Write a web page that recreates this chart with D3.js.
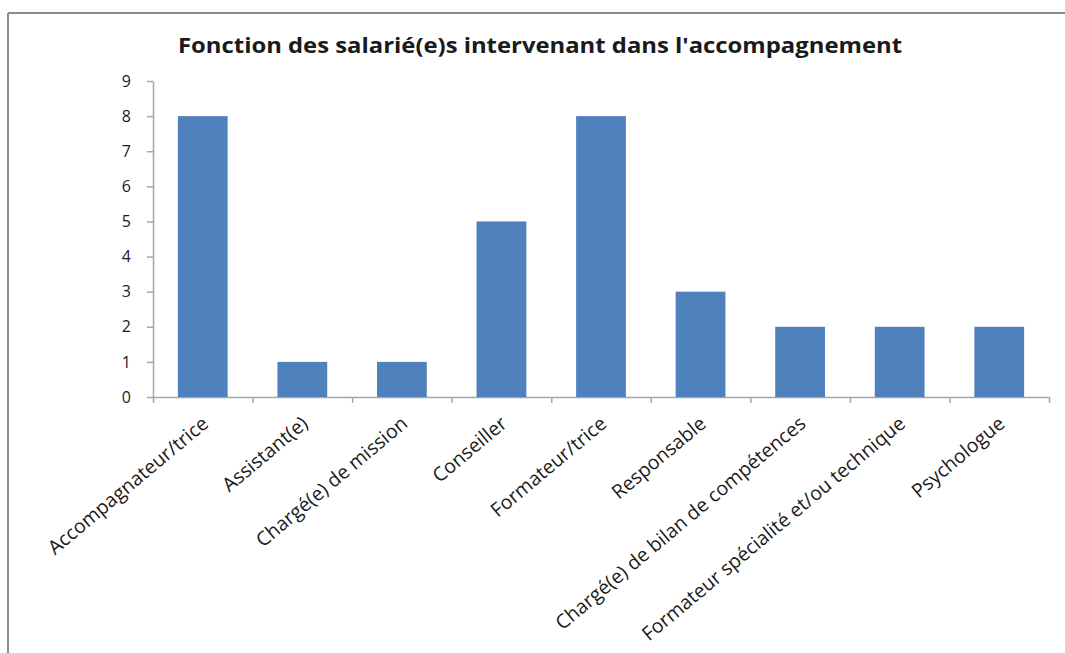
<!DOCTYPE html>
<meta charset="utf-8">
<script src="https://d3js.org/d3.v7.min.js"></script>
<style>
  body { margin: 0; background: #fff; }
  text { font-family: "Open Sans", sans-serif; fill: #1a1a1a; }
  .axis path, .axis line { stroke: #a6a6a6; stroke-width: 1.5; }
</style>
<div id="chart"></div>
<script>

// categories and values
var categories = [
  "Accompagnateur/trice",
  "Assistant(e)",
  "Chargé(e) de mission",
  "Conseiller",
  "Formateur/trice",
  "Responsable",
  "Chargé(e) de bilan de compétences",
  "Formateur spécialité et/ou technique",
  "Psychologue"
];
var values = [8, 1, 1, 5, 8, 3, 2, 2, 2];
var yTicks = [0, 1, 2, 3, 4, 5, 6, 7, 8, 9];
var title = "Fonction des salarié(e)s intervenant dans l'accompagnement";

var W = 1065, H = 653;
var margin = {top: 81, right: 16, bottom: 256, left: 153},
    width = W - margin.left - margin.right,
    height = H - margin.top - margin.bottom;

var root = d3.select("#chart").append("svg")
  .attr("width", W)
  .attr("height", H);

// outer frame (only top and left visible)
root.append("line").attr("x1", 8).attr("x2", W).attr("y1", 13).attr("y2", 13)
  .attr("stroke", "#8c8c8c").attr("stroke-width", 2);
root.append("line").attr("x1", 8).attr("x2", 8).attr("y1", 13).attr("y2", H)
  .attr("stroke", "#8c8c8c").attr("stroke-width", 2);

// title (stretched wide like the original)
root.append("text")
  .attr("x", 540)
  .attr("y", 53)
  .attr("text-anchor", "middle")
  .attr("textLength", 724)
  .attr("lengthAdjust", "spacingAndGlyphs")
  .style("font-weight", "bold")
  .style("font-size", "21px")
  .text(title);

var svg = root.append("g")
  .attr("transform", "translate(" + margin.left + "," + margin.top + ")");

var x = d3.scaleBand()
  .domain(categories)
  .range([0, width])
  .paddingInner(0.5)
  .paddingOuter(0.25);

var y = d3.scaleLinear()
  .domain([0, 9])
  .range([height, 0]);

// Y axis
var yAxis = svg.append("g")
  .attr("class", "axis")
  .call(d3.axisLeft(y).tickValues(yTicks).tickSize(6).tickPadding(16).tickSizeOuter(0));
yAxis.selectAll("text").style("font-size", "16px");

// X axis (ticks at band boundaries)
var xb = d3.scaleLinear().domain([0, categories.length]).range([0, width]);
svg.append("g")
  .attr("class", "axis")
  .attr("transform", "translate(0," + height + ")")
  .call(d3.axisBottom(xb).tickValues(d3.range(categories.length + 1)).tickSize(6).tickSizeOuter(0).tickFormat(""));

// bars
svg.selectAll("rect")
  .data(values)
  .enter()
  .append("rect")
    .attr("x", function(d, i) { return x(categories[i]); })
    .attr("y", function(d) { return y(d); })
    .attr("width", x.bandwidth())
    .attr("height", function(d) { return height - y(d); })
    .attr("fill", "#4f81bd");

// rotated category labels
svg.selectAll(".xlabel")
  .data(categories)
  .enter()
  .append("text")
    .attr("class", "xlabel")
    .attr("text-anchor", "end")
    .style("font-size", "19.5px")
    .attr("transform", function(d) {
      return "translate(" + (x(d) + x.bandwidth() / 2 - 2) + "," + (height + 18) + ") rotate(-40)";
    })
    .attr("dy", "0.71em")
    .text(function(d) { return d; });

</script>
